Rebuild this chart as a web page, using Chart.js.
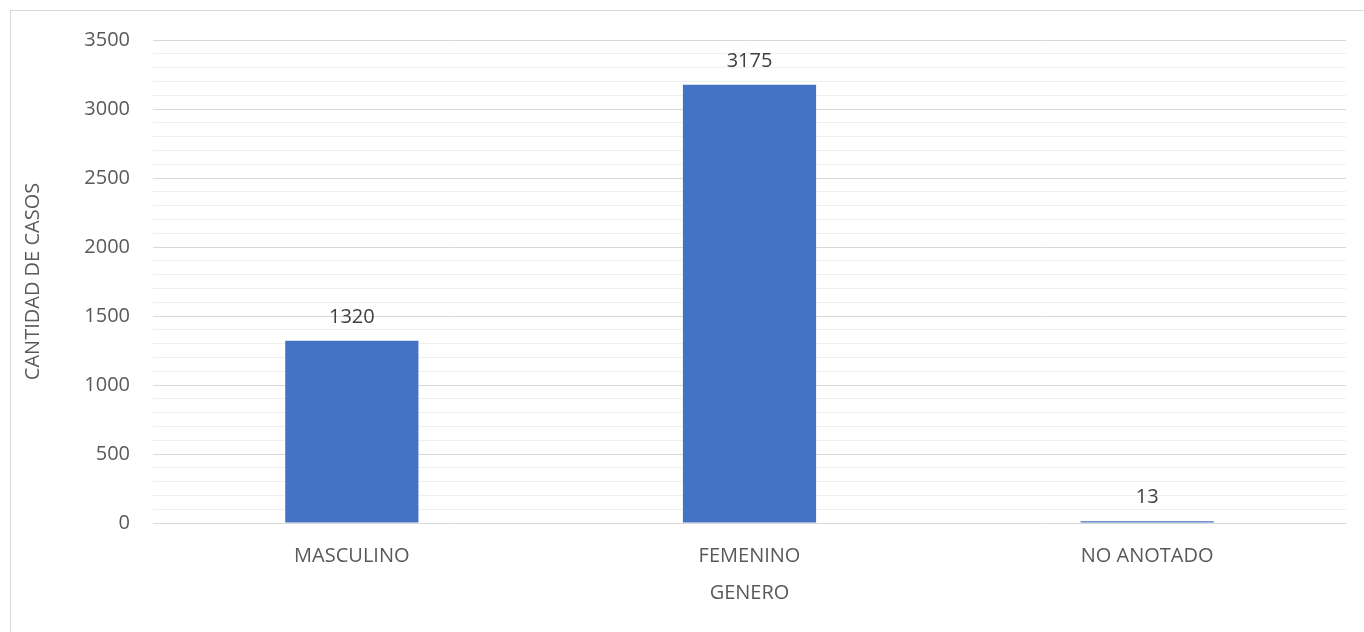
<!DOCTYPE html>
<html>
<head>
<meta charset="utf-8">
<script src="https://cdn.jsdelivr.net/npm/chart.js@4/dist/chart.umd.min.js"></script>
<style>
  html, body { margin: 0; padding: 0; background: #ffffff; overflow: hidden; }
  #wrap { position: relative; width: 1364px; height: 632px; }
  #frame { position: absolute; left: 10px; top: 10px; width: 1400px; height: 700px;
           border: 1px solid #d9d9d9; box-sizing: border-box; }
  canvas { position: absolute; left: 0; top: 0; }
</style>
</head>
<body>
<div id="wrap">
  <div id="frame"></div>
  <canvas id="chart" width="1364" height="632"></canvas>
</div>
<script>
// Cases by gender
const categories = ['MASCULINO', 'FEMENINO', 'NO ANOTADO'];
const casos = [1320, 3175, 13];
const yMax = 3500;
const majorStep = 500;
const minorStep = 100;

const FONT = '"Open Sans", "DejaVu Sans", sans-serif';

// Writes each bar's value above it
const valueLabels = {
  id: 'valueLabels',
  afterDatasetsDraw(chart) {
    const ctx = chart.ctx;
    const meta = chart.getDatasetMeta(0);
    ctx.save();
    ctx.font = '20px ' + FONT;
    ctx.fillStyle = '#404040';
    ctx.textAlign = 'center';
    ctx.textBaseline = 'middle';
    meta.data.forEach((bar, i) => {
      ctx.fillText(String(casos[i]), bar.x, bar.y - 24);
    });
    ctx.restore();
  }
};

new Chart(document.getElementById('chart'), {
  type: 'bar',
  data: {
    labels: categories,
    datasets: [{
      data: casos,
      backgroundColor: '#4472C4',
      borderWidth: 0,
      categoryPercentage: 1,
      barPercentage: 0.335
    }]
  },
  options: {
    responsive: false,
    animation: false,
    devicePixelRatio: 1,
    layout: { padding: { top: 40, right: 18, bottom: 0, left: 0 } },
    plugins: { legend: { display: false }, tooltip: { enabled: false } },
    scales: {
      x: {
        grid: { display: false, drawTicks: false },
        border: { display: false },
        ticks: { color: '#595959', font: { family: FONT, size: 20 }, padding: 21 },
        title: { display: true, text: 'GENERO', color: '#595959',
                 font: { family: FONT, size: 20 }, padding: { top: 0, bottom: 27 } },
        afterFit(scale) { scale.height = 109; }
      },
      y: {
        min: 0,
        max: yMax,
        grid: {
          drawTicks: false,
          lineWidth: 1,
          color: (c) => (c.tick && c.tick.value % majorStep === 0) ? '#d9d9d9' : '#efefef'
        },
        border: { display: false },
        ticks: {
          stepSize: minorStep,
          autoSkip: false,
          color: '#595959',
          font: { family: FONT, size: 20 },
          padding: 23,
          callback: (v) => (v % majorStep === 0) ? String(v) : ''
        },
        title: { display: true, text: 'CANTIDAD DE CASOS', color: '#595959',
                 font: { family: FONT, size: 20 }, padding: { top: 21, bottom: 0 } },
        afterFit(scale) { scale.width = 153; }
      }
    }
  },
  plugins: [valueLabels]
});
</script>
</body>
</html>
